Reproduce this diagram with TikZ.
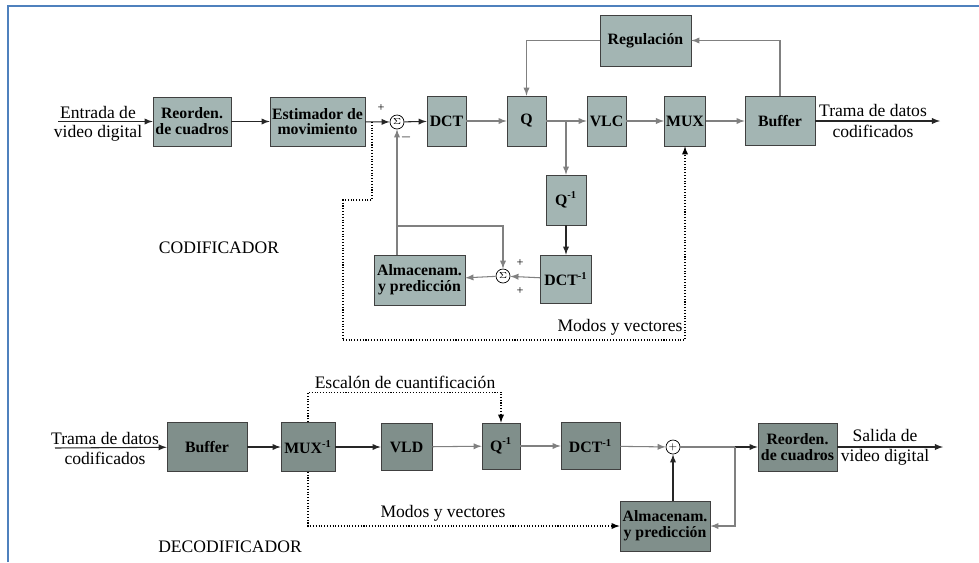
\documentclass[tikz,border=0pt]{standalone}
\usepackage{fontspec}
\setmainfont{Liberation Serif}
\usetikzlibrary{calc}

\definecolor{codbox}{HTML}{A3B5B3}
\definecolor{decbox}{HTML}{808F8B}
\definecolor{marco}{HTML}{4F81BD}

\begin{document}
\begin{tikzpicture}[x=0.02cm,y=-0.02cm]
\tikzstyle{codi}=[rectangle,draw=black!75,fill=codbox,inner sep=1pt,align=center,font=\small\bfseries,minimum height=0.98cm]
\tikzstyle{deco}=[codi,fill=decbox]
\tikzstyle{suma}=[circle,draw,fill=white,inner sep=0pt,minimum size=0.28cm,font=\tiny]
\tikzstyle{rotulo}=[font=\normalsize,inner sep=0pt]
\tikzstyle{flecha}=[-latex,semithick,black!85]
\tikzstyle{flechag}=[-latex,semithick,black!50]
\tikzstyle{punteado}=[densely dotted,semithick]
\useasboundingbox (0,0) rectangle (979,562);
% marco
\draw[marco,line width=1.2pt] (8,562) -- (8,6) -- (979,6);

% codificador
\node [codi,minimum width=1.56cm] (reord1) at (192,121.5) {Reorden.\\[-2pt]de cuadros};
\node [codi,minimum width=1.9cm] (estim) at (317.5,121.5) {Estimador de\\[-2pt]movimiento};
\node [suma] (sum1) at (397,122) {$\Sigma$};
\node [codi,minimum width=0.78cm,minimum height=1cm] (dct) at (446.5,121) {DCT};
\node [codi,minimum width=0.78cm,minimum height=1cm] (q) at (526.5,121) {Q};
\node [codi,minimum width=0.78cm,minimum height=1cm] (vlc) at (606.5,121) {VLC};
\node [codi,minimum width=0.8cm,minimum height=1cm] (mux) at (685,121) {MUX};
\node [codi,minimum width=1.4cm] (buf1) at (780,121) {Buffer};
\node [codi,minimum width=1.82cm,minimum height=1.02cm] (regul) at (645.5,40.5) {Regulación};
\node [codi,minimum width=0.8cm,minimum height=1cm] (qinv) at (566,200) {Q\textsuperscript{-1}};
\node [codi,minimum width=1.02cm,minimum height=0.96cm] (dctinv) at (566,279) {DCT\textsuperscript{-1}};
\node [codi,minimum width=1.82cm,minimum height=1cm] (alm1) at (419.5,280) {Almacenam.\\[-2pt]y predicción};
\node [suma] (sum2) at (503,276) {$\Sigma$};

\coordinate (entrada1) at (58,121.5);
\coordinate (salida1) at (940,121);
\coordinate (rama1) at (566,121);
\coordinate (fb) at (397,226);
\coordinate (d1) at (372,122);
\coordinate (d2) at (372,200);
\coordinate (d3) at (343,200);
\coordinate (d4) at (343,340);

\node [rotulo] at (98,112) {Entrada de};
\node [rotulo] at (98,133) {video digital};
\node [rotulo] at (873,110) {Trama de datos};
\node [rotulo] at (873,131) {codificados};
\node [font=\scriptsize] at (381,108) {+};
\node [font=\scriptsize] at (406,137) {$-$};
\node [font=\scriptsize] at (520,263) {+};
\node [font=\scriptsize] at (520,291) {+};
\node [rotulo] at (620,327) {Modos y vectores};
\node [rotulo] at (219,248) {CODIFICADOR};

\draw[flecha] (entrada1) -- (reord1);
\draw[flecha] (reord1) -- (estim);
\draw[flecha] (estim) -- (sum1);
\draw[flecha] (sum1) -- (dct);
\draw[flechag] (dct) -- (q);
\draw[semithick,black!50] (q) -- (rama1);
\draw[flechag] (rama1) -- (vlc);
\draw[flechag] (rama1) -- (qinv);
\draw[flechag] (vlc) -- (mux);
\draw[flechag] (mux) -- (buf1);
\draw[flecha] (buf1) -- (salida1);
\draw[flechag] (buf1.north) |- (regul.east);
\draw[flechag] (regul.west) -| (q.north);
\draw[flecha] (qinv) -- (dctinv);
\draw[flechag] (dctinv) -- (sum2);
\draw[flechag] (sum2) -- (alm1);
\draw[flechag] (sum1 |- alm1.north) -- (sum1.south);
\draw[flechag] (fb) -| (sum2.north);
\draw[punteado] (d1) -- (d2) -- (d3) -- (d4);
\draw[punteado,-latex] (d4) -| (mux.south);

% decodificador
\node [deco,minimum width=1.6cm] (buf2) at (207,447) {Buffer};
\node [deco,minimum width=1.08cm] (muxinv) at (308,447) {MUX\textsuperscript{-1}};
\node [deco,minimum width=1.02cm,minimum height=0.94cm] (vld) at (406.5,447) {VLD};
\node [deco,minimum width=0.76cm,minimum height=0.92cm] (qinv2) at (501,446) {Q\textsuperscript{-1}};
\node [deco,minimum width=1.18cm,minimum height=0.94cm] (dctinv2) at (590.5,446) {DCT\textsuperscript{-1}};
\node [suma] (sum3) at (673,447) {$+$};
\node [deco,minimum width=1.58cm,minimum height=0.96cm] (reord2) at (797.5,447) {Reorden.\\[-2pt]de cuadros};
\node [deco,minimum width=1.8cm,minimum height=1cm] (alm2) at (665,526) {Almacenam.\\[-2pt]y predicción};

\coordinate (entrada2) at (55,448);
\coordinate (salida2) at (943,447);
\coordinate (rama2) at (735,447);

\node [rotulo] at (105,438) {Trama de datos};
\node [rotulo] at (105,458) {codificados};
\node [rotulo] at (885,435) {Salida de};
\node [rotulo] at (885,457) {video digital};
\node [rotulo] at (405,382) {Escalón de cuantificación};
\node [rotulo] at (443,513) {Modos y vectores};
\node [rotulo] at (230,547) {DECODIFICADOR};

\draw[flecha] (entrada2) -- (buf2);
\draw[flecha] (buf2) -- (muxinv);
\draw[flecha] (muxinv) -- (vld);
\draw[flechag] (vld) -- (qinv2);
\draw[flechag] (qinv2) -- (dctinv2);
\draw[flechag] (dctinv2) -- (sum3);
\draw[semithick,black!50] (sum3) -- (rama2);
\draw[flecha] (rama2) -- (reord2);
\draw[flechag] (rama2) |- (alm2.east);
\draw[flecha] (sum3 |- alm2.north) -- (sum3.south);
\draw[flecha] (reord2) -- (salida2);
\draw[punteado,-latex] (muxinv.north) -- ++(0,-30) -| (qinv2.north);
\draw[punteado,-latex] (muxinv.south) |- (alm2.west);
\end{tikzpicture}
\end{document}
